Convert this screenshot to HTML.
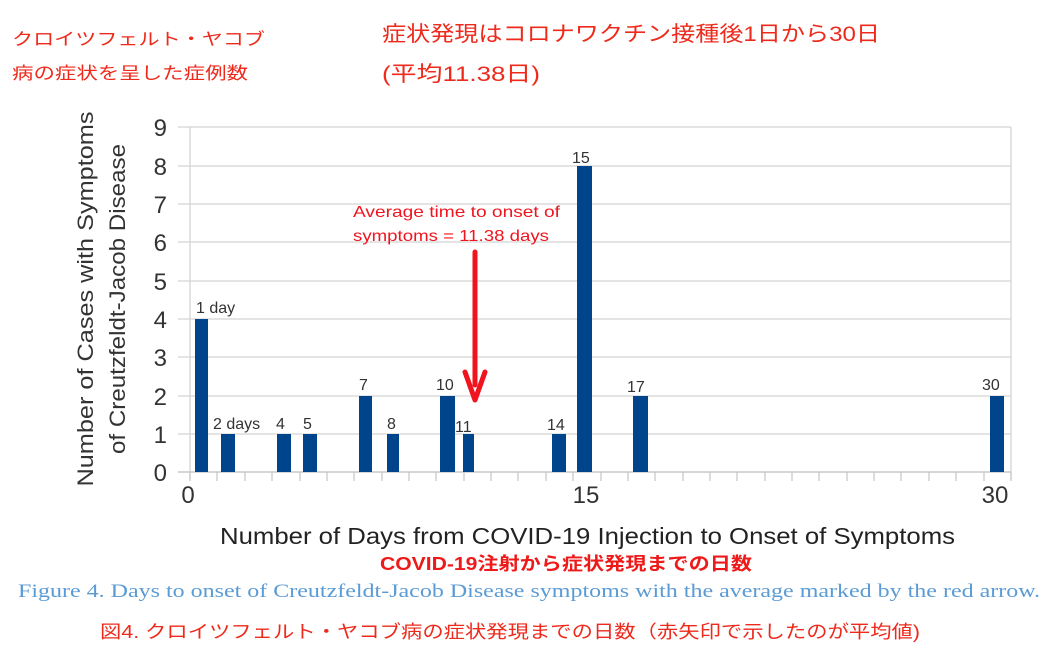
<!DOCTYPE html>
<html><head><meta charset="utf-8"><style>
html,body{margin:0;padding:0;background:#fff;width:1052px;height:652px;overflow:hidden}
svg text{font-family:"Liberation Sans","Noto Sans CJK JP",sans-serif}
</style></head><body>
<svg width="1052" height="652" xmlns="http://www.w3.org/2000/svg">
<g fill="#ee2a1c" font-size="17">
<text x="12" y="45" textLength="253" lengthAdjust="spacingAndGlyphs">クロイツフェルト・ヤコブ</text>
<text x="12" y="79" textLength="236" lengthAdjust="spacingAndGlyphs">病の症状を呈した症例数</text>
</g>
<g fill="#ee2a1c" font-size="21">
<text x="382" y="41" textLength="498" lengthAdjust="spacingAndGlyphs">症状発現はコロナワクチン接種後1日から30日</text>
<text x="382" y="81" textLength="158" lengthAdjust="spacingAndGlyphs">(平均11.38日)</text>
</g>
<g stroke="#d4d4d4" stroke-width="1.3">
<line x1="178" y1="127" x2="1011" y2="127"/><line x1="178" y1="166" x2="1011" y2="166"/>
<line x1="178" y1="204" x2="1011" y2="204"/><line x1="178" y1="242" x2="1011" y2="242"/>
<line x1="178" y1="281" x2="1011" y2="281"/><line x1="178" y1="319" x2="1011" y2="319"/>
<line x1="178" y1="357" x2="1011" y2="357"/><line x1="178" y1="396" x2="1011" y2="396"/>
<line x1="178" y1="434" x2="1011" y2="434"/>
<line x1="1011" y1="127" x2="1011" y2="480"/>
<line x1="190" y1="127" x2="190" y2="480"/>
</g>
<line x1="178" y1="472" x2="1011" y2="472" stroke="#c8c8c8" stroke-width="1.5"/>
<g fill="#00458b">
<rect x="195" y="319" width="13" height="153"/>
<rect x="221" y="434" width="14" height="38"/>
<rect x="277" y="434" width="14" height="38"/>
<rect x="303" y="434" width="14" height="38"/>
<rect x="359" y="396" width="13" height="76"/>
<rect x="387" y="434" width="12" height="38"/>
<rect x="440" y="396" width="15" height="76"/>
<rect x="463" y="434" width="11" height="38"/>
<rect x="552" y="434" width="14" height="38"/>
<rect x="577" y="166" width="15" height="306"/>
<rect x="633" y="396" width="15" height="76"/>
<rect x="990" y="396" width="14" height="76"/>
</g>
<g fill="#333" font-size="16">
<text x="196" y="313">1 day</text>
<text x="213" y="429">2 days</text>
<text x="276" y="429">4</text>
<text x="303" y="429">5</text>
<text x="359" y="390">7</text>
<text x="387" y="429">8</text>
<text x="436" y="390">10</text>
<text x="455" y="432">11</text>
<text x="547" y="430">14</text>
<text x="572" y="163">15</text>
<text x="627" y="392">17</text>
<text x="982" y="390">30</text>
</g>
<g fill="#333" font-size="24" text-anchor="end">
<text x="167" y="136">9</text><text x="167" y="175">8</text><text x="167" y="213">7</text>
<text x="167" y="251">6</text><text x="167" y="290">5</text><text x="167" y="328">4</text>
<text x="167" y="366">3</text><text x="167" y="405">2</text><text x="167" y="443">1</text>
<text x="167" y="481">0</text>
</g>
<g fill="#333" font-size="24" text-anchor="middle">
<text x="188" y="503">0</text><text x="586" y="503">15</text><text x="995" y="503">30</text>
</g>
<g fill="#333" font-size="22" text-anchor="middle">
<text transform="translate(93,299) rotate(-90)" textLength="375" lengthAdjust="spacingAndGlyphs">Number of Cases with Symptoms</text>
<text transform="translate(125,299) rotate(-90)" textLength="310" lengthAdjust="spacingAndGlyphs">of Creutzfeldt-Jacob Disease</text>
</g>
<g fill="#f0141e" font-size="16">
<text x="353" y="217" textLength="207" lengthAdjust="spacingAndGlyphs">Average time to onset of</text>
<text x="353" y="241" textLength="196" lengthAdjust="spacingAndGlyphs">symptoms = 11.38 days</text>
</g>
<line x1="475" y1="252" x2="475" y2="385" stroke="#f0141e" stroke-width="5" stroke-linecap="round"/>
<polyline points="465,372 475,400 485,372" fill="none" stroke="#f0141e" stroke-width="5" stroke-linejoin="round" stroke-linecap="round"/>
<text x="220" y="544" fill="#222" font-size="23" textLength="735" lengthAdjust="spacingAndGlyphs">Number of Days from COVID-19 Injection to Onset of Symptoms</text>
<text x="380" y="570" fill="#ee1a1a" font-size="18" font-weight="bold" textLength="372" lengthAdjust="spacingAndGlyphs">COVID-19注射から症状発現までの日数</text>
<text x="18" y="597" fill="#5a9bd5" font-size="19" style="font-family:'Liberation Serif',serif" textLength="1022" lengthAdjust="spacingAndGlyphs">Figure 4. Days to onset of Creutzfeldt-Jacob Disease symptoms with the average marked by the red arrow.</text>
<text x="100" y="638" fill="#ee2a1c" font-size="18" textLength="820" lengthAdjust="spacingAndGlyphs">図4. クロイツフェルト・ヤコブ病の症状発現までの日数（赤矢印で示したのが平均値)</text>
<g stroke="#c8c8c8" stroke-width="1.3">
<line x1="190" y1="472" x2="190" y2="481"/><line x1="217" y1="472" x2="217" y2="481"/><line x1="245" y1="472" x2="245" y2="481"/><line x1="272" y1="472" x2="272" y2="481"/><line x1="300" y1="472" x2="300" y2="481"/><line x1="327" y1="472" x2="327" y2="481"/><line x1="354" y1="472" x2="354" y2="481"/><line x1="382" y1="472" x2="382" y2="481"/><line x1="409" y1="472" x2="409" y2="481"/><line x1="436" y1="472" x2="436" y2="481"/><line x1="464" y1="472" x2="464" y2="481"/><line x1="491" y1="472" x2="491" y2="481"/><line x1="518" y1="472" x2="518" y2="481"/><line x1="546" y1="472" x2="546" y2="481"/><line x1="573" y1="472" x2="573" y2="481"/><line x1="601" y1="472" x2="601" y2="481"/><line x1="628" y1="472" x2="628" y2="481"/><line x1="655" y1="472" x2="655" y2="481"/><line x1="683" y1="472" x2="683" y2="481"/><line x1="710" y1="472" x2="710" y2="481"/><line x1="737" y1="472" x2="737" y2="481"/><line x1="765" y1="472" x2="765" y2="481"/><line x1="792" y1="472" x2="792" y2="481"/><line x1="819" y1="472" x2="819" y2="481"/><line x1="847" y1="472" x2="847" y2="481"/><line x1="874" y1="472" x2="874" y2="481"/><line x1="901" y1="472" x2="901" y2="481"/><line x1="929" y1="472" x2="929" y2="481"/><line x1="956" y1="472" x2="956" y2="481"/><line x1="984" y1="472" x2="984" y2="481"/><line x1="1011" y1="472" x2="1011" y2="481"/>
</g>
</svg>
</body></html>
